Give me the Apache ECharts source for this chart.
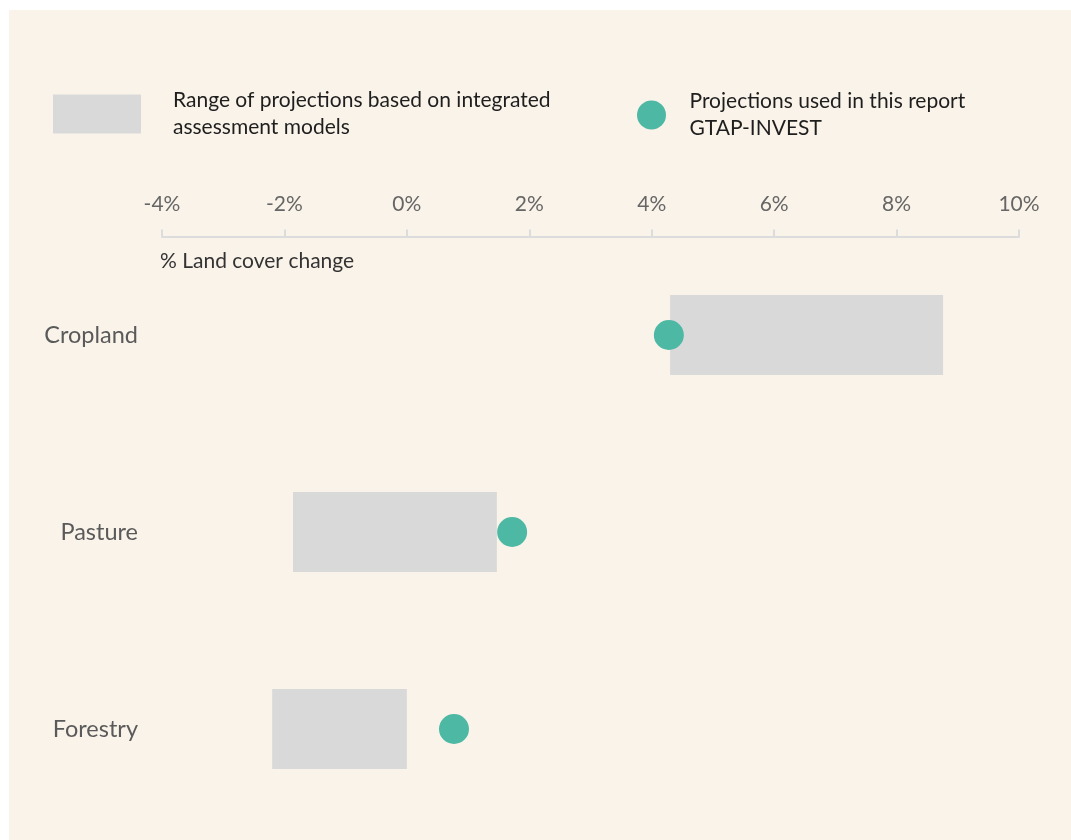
<!DOCTYPE html>
<html>
<head>
<meta charset="utf-8">
<script src="https://cdn.jsdelivr.net/npm/echarts@6/dist/echarts.min.js"></script>
<style>
  html, body { margin: 0; padding: 0; background: #ffffff; }
  #chart { position: absolute; left: 9px; top: 10px; width: 1062px; height: 830px; background: #faf3e9; }
</style>
</head>
<body>
<div id="chart"></div>
<script>
// values (% land cover change)
var categories = ['Cropland', 'Pasture', 'Forestry'];
var rangeLow = [4.3, -1.86, -2.2];
var rangeHigh = [8.76, 1.47, 0];
var projection = [4.28, 1.72, 0.77];
var xTicks = [-4, -2, 0, 2, 4, 6, 8, 10];

var rangeName = 'Range of projections based on integrated\nassessment models';
var projName = 'Projections used in this report\nGTAP-INVEST';

var myChart = echarts.init(document.getElementById('chart'));

var rangeData = categories.map(function (c, i) { return [rangeLow[i], rangeHigh[i], i]; });
var projData = categories.map(function (c, i) { return [projection[i], i]; });

var fontFamily = 'Lato, "Noto Sans", sans-serif';

var option = {
    animation: false,
    textStyle: { fontFamily: fontFamily },
    grid: { left: 153, right: 52, top: 226.5, bottom: 12.5 },
    legend: [{
        data: [rangeName],
        left: 39, top: 72,
        icon: 'rect',
        itemWidth: 88, itemHeight: 39,
        selectedMode: false,
        textStyle: { fontSize: 21, color: '#1e1e1e', lineHeight: 27, padding: [0, 0, 0, 27], fontFamily: fontFamily }
    }, {
        data: [projName],
        left: 623, top: 73,
        icon: 'circle',
        itemWidth: 32, itemHeight: 29,
        selectedMode: false,
        textStyle: { fontSize: 21, color: '#1e1e1e', lineHeight: 27, padding: [0, 0, 0, 17], fontFamily: fontFamily }
    }],
    xAxis: {
        type: 'value',
        position: 'top',
        min: -4, max: 10, interval: 2,
        axisLine: { show: true, lineStyle: { color: '#dcdcdc', width: 2 } },
        axisTick: { show: true, length: 7, lineStyle: { color: '#dcdcdc', width: 2 } },
        splitLine: { show: false },
        axisLabel: {
            margin: 22,
            fontSize: 21,
            color: '#666666',
            formatter: function (v) { return xTicks.indexOf(v) >= 0 ? v + '%' : ''; }
        }
    },
    yAxis: {
        type: 'category',
        data: categories,
        inverse: true,
        axisLine: { show: false },
        axisTick: { show: false },
        axisLabel: { margin: 24, fontSize: 23.5, color: '#5a5a5a' }
    },
    graphic: [{
        type: 'text',
        left: 151, top: 241,
        style: { text: '% Land cover change', fontSize: 21, fill: '#333333', fontFamily: fontFamily }
    }],
    series: [{
        name: rangeName,
        type: 'custom',
        itemStyle: { color: '#d9d9d9' },
        encode: { x: [0, 1], y: 2 },
        renderItem: function (params, api) {
            var start = api.coord([api.value(0), api.value(2)]);
            var end = api.coord([api.value(1), api.value(2)]);
            var h = api.size([0, 1])[1] * 0.405;
            return {
                type: 'rect',
                shape: { x: start[0], y: start[1] - h / 2, width: end[0] - start[0], height: h },
                style: { fill: '#d9d9d9' }
            };
        },
        data: rangeData
    }, {
        name: projName,
        type: 'scatter',
        symbol: 'circle',
        symbolSize: 30,
        itemStyle: { color: '#4db8a4', opacity: 1 },
        data: projData,
        z: 3
    }]
};
myChart.setOption(option);
</script>
</body>
</html>
